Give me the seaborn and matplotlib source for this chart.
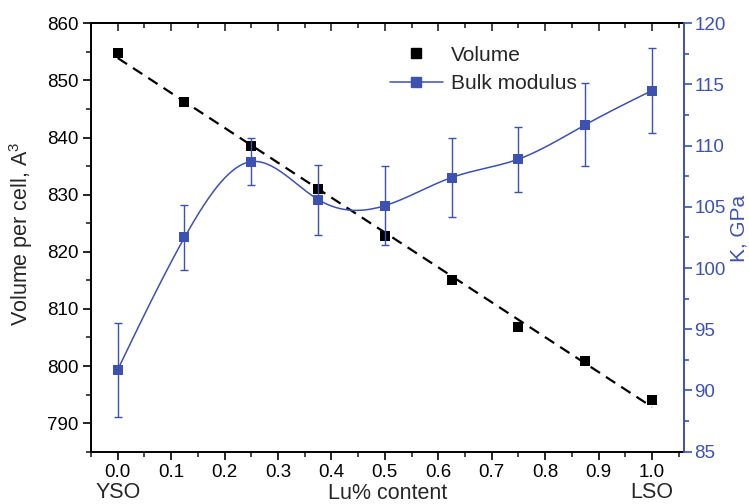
import numpy as np
import pandas as pd
import matplotlib
matplotlib.use("Agg")
import matplotlib.pyplot as plt
from matplotlib.ticker import MultipleLocator
from matplotlib.lines import Line2D
import seaborn as sns

# ---- data ----
lu_content = [0.0, 0.125, 0.25, 0.375, 0.5, 0.625, 0.75, 0.875, 1.0]
volume = [854.8, 846.3, 838.5, 831.0, 822.8, 815.1, 806.9, 800.9, 794.1]
bulk_modulus = [91.7, 102.5, 108.7, 105.6, 105.1, 107.4, 108.9, 111.7, 114.5]
bulk_err = [3.85, 2.65, 1.9, 2.86, 3.23, 3.21, 2.66, 3.4, 3.5]
xtick_values = [0.0, 0.1, 0.2, 0.3, 0.4, 0.5, 0.6, 0.7, 0.8, 0.9, 1.0]
left_ticks = [790, 800, 810, 820, 830, 840, 850, 860]
right_ticks = [85, 90, 95, 100, 105, 110, 115, 120]

BLUE = "#3d51b1"
FONT = ["Liberation Sans", "DejaVu Sans"]

sns.set_theme(style="ticks")
plt.rcParams["font.family"] = FONT
plt.rcParams["mathtext.fontset"] = "custom"
plt.rcParams["mathtext.rm"] = "Liberation Sans"


def natural_spline(x, y, n=400):
    x = np.asarray(x, float)
    y = np.asarray(y, float)
    m = len(x)
    h = np.diff(x)
    A = np.zeros((m, m))
    b = np.zeros(m)
    A[0, 0] = A[-1, -1] = 1.0
    for i in range(1, m - 1):
        A[i, i - 1] = h[i - 1]
        A[i, i] = 2 * (h[i - 1] + h[i])
        A[i, i + 1] = h[i]
        b[i] = 6 * ((y[i + 1] - y[i]) / h[i] - (y[i] - y[i - 1]) / h[i - 1])
    M = np.linalg.solve(A, b)
    xs = np.linspace(x[0], x[-1], n)
    idx = np.clip(np.searchsorted(x, xs) - 1, 0, m - 2)
    x0, x1 = x[idx], x[idx + 1]
    hh = x1 - x0
    t0 = x1 - xs
    t1 = xs - x0
    ys = (M[idx] * t0 ** 3 / (6 * hh) + M[idx + 1] * t1 ** 3 / (6 * hh)
          + (y[idx] / hh - M[idx] * hh / 6) * t0
          + (y[idx + 1] / hh - M[idx + 1] * hh / 6) * t1)
    return xs, ys


df = pd.DataFrame({"x": lu_content, "vol": volume, "K": bulk_modulus, "err": bulk_err})
sx, sy = natural_spline(lu_content, bulk_modulus)
smooth = pd.DataFrame({"x": sx, "K": sy})

fig = plt.figure(figsize=(7.49, 5.04), dpi=100)
ax = fig.add_axes([0.1215, 0.1038, 0.7917, 0.85])
ax2 = ax.twinx()

# Volume: linear fit (dashed) + black squares
sns.regplot(data=df, x="x", y="vol", ax=ax, ci=None, scatter=False, truncate=True,
            line_kws=dict(color="black", lw=1.6, dashes=(5, 3.2), zorder=2))
sns.scatterplot(data=df, x="x", y="vol", ax=ax, marker="s", s=42, color="black",
                edgecolor="black", linewidth=0, zorder=3)

# Bulk modulus: spline + error bars + blue squares
sns.lineplot(data=smooth, x="x", y="K", ax=ax2, color=BLUE, lw=1.1, zorder=2)
ax2.errorbar(df["x"], df["K"], yerr=df["err"], fmt="none", ecolor=BLUE,
             elinewidth=1.0, capsize=3.2, capthick=1.0, zorder=2)
sns.scatterplot(data=df, x="x", y="K", ax=ax2, marker="s", s=48, color=BLUE,
                edgecolor=BLUE, linewidth=0, zorder=3)

# limits & ticks
ax.set_xlim(-0.05, 1.06)
ax.set_ylim(785, 860)
ax2.set_ylim(85, 120)
ax.set_xticks(xtick_values)
ax.set_xticklabels([f"{v:.1f}" for v in xtick_values])
ax.xaxis.set_minor_locator(MultipleLocator(0.05))
ax.set_yticks(left_ticks)
ax.yaxis.set_minor_locator(MultipleLocator(5))
ax2.set_yticks(right_ticks)
ax2.yaxis.set_minor_locator(MultipleLocator(2.5))

ax.tick_params(axis="both", which="major", direction="out", length=6, width=1.2,
               labelsize=13.5, pad=3, colors="black")
ax.tick_params(axis="both", which="minor", direction="out", length=3.5, width=1.2)
ax2.tick_params(axis="y", which="major", direction="out", length=6, width=1.2,
                labelsize=13.5, pad=1.5, colors=BLUE)
ax2.tick_params(axis="y", which="minor", direction="out", length=3.5, width=1.2,
                colors=BLUE)

sec = ax.secondary_xaxis("top")
sec.set_xticks(xtick_values)
sec.xaxis.set_minor_locator(MultipleLocator(0.05))
sec.tick_params(axis="x", which="major", direction="in", length=6, width=1.2,
                labeltop=False)
sec.tick_params(axis="x", which="minor", direction="in", length=3.5, width=1.2)
sec.spines["top"].set_linewidth(1.4)

for s in ["left", "bottom", "top"]:
    ax.spines[s].set_linewidth(1.4)
    ax.spines[s].set_color("black")
ax.spines["right"].set_visible(False)
for s in ["left", "bottom", "top"]:
    ax2.spines[s].set_visible(False)
ax2.spines["right"].set_color(BLUE)
ax2.spines["right"].set_linewidth(1.4)

# labels
ax.set_xlabel("Lu% content", fontsize=15.5)
ax.xaxis.set_label_coords(0.5, -0.072)
ax.set_ylabel("Volume per cell, A$^3$", fontsize=15.5)
ax.yaxis.set_label_coords(-0.094, 0.508)
ax2.set_ylabel("K, GPa", fontsize=15, color=BLUE)
ax2.yaxis.set_label_coords(1.076, 0.522)

ax.text(0.0, -0.095, "YSO", transform=ax.get_xaxis_transform(), ha="center",
        va="center", fontsize=15.5)
ax.text(1.0, -0.095, "LSO", transform=ax.get_xaxis_transform(), ha="center",
        va="center", fontsize=15.5)

# legend
handles = [
    Line2D([], [], ls="none", marker="s", ms=6.5, color="black"),
    Line2D([], [], ls="-", lw=1.1, marker="s", ms=6.5, color=BLUE),
]
ax.legend(handles, ["Volume", "Bulk modulus"], loc="upper left",
          bbox_to_anchor=(0.504, 0.948), frameon=False, fontsize=15,
          handlelength=2.55, handletextpad=0.4, borderpad=0, borderaxespad=0,
          labelspacing=0.45)

fig.savefig("out.png", dpi=100)
